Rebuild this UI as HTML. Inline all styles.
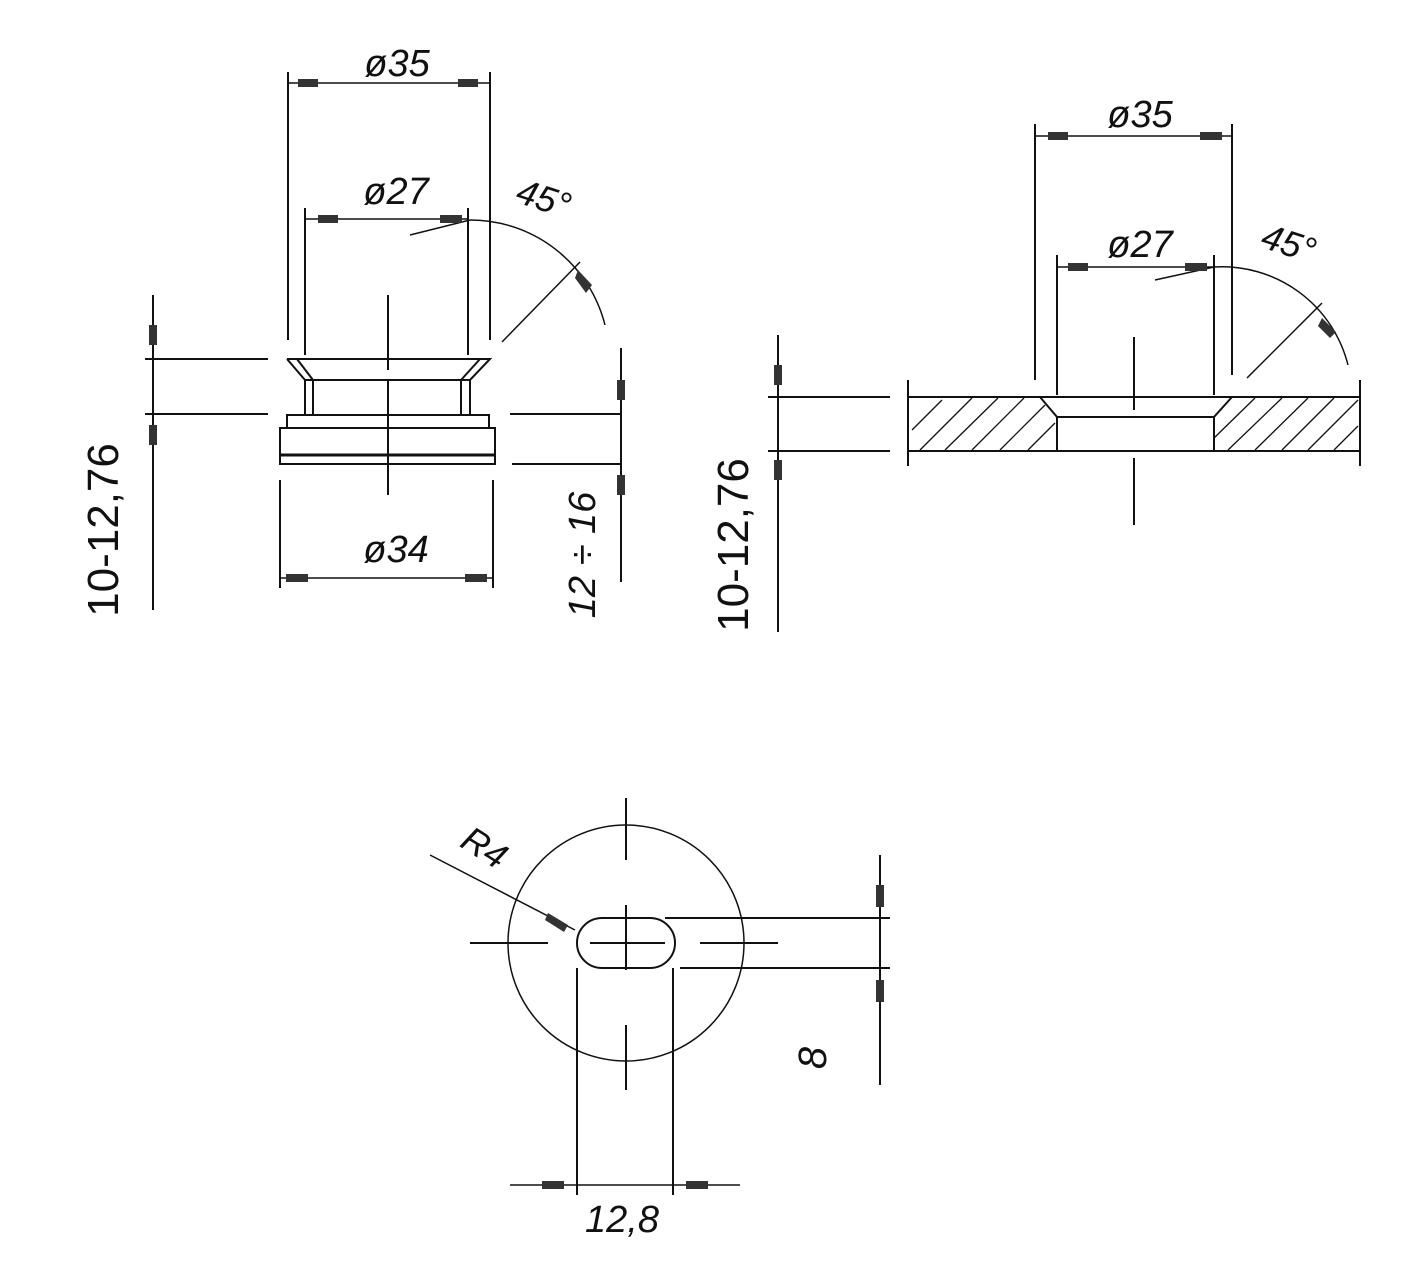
<!DOCTYPE html>
<html><head><meta charset="utf-8"><style>html,body{margin:0;padding:0;background:#fff}svg{display:block}</style></head>
<body>
<svg width="1421" height="1277" viewBox="0 0 1421 1277" xmlns="http://www.w3.org/2000/svg" font-family="Liberation Sans, sans-serif">
<g stroke="#111" stroke-width="2" fill="none">
<!-- LEFT VIEW -->
<line x1="288" y1="72" x2="288" y2="340"/><line x1="490" y1="72" x2="490" y2="340"/>
<line x1="288" y1="83" x2="490" y2="83" stroke-width="1.5"/>
<line x1="305" y1="208" x2="305" y2="355"/><line x1="468" y1="208" x2="468" y2="355"/>
<line x1="305" y1="219" x2="468" y2="219" stroke-width="1.5"/>
<polyline points="287,359 490,359 470,380 305,380 287,359"/>
<line x1="297" y1="359" x2="313" y2="380"/><line x1="480" y1="359" x2="461" y2="380"/>
<line x1="305" y1="380" x2="305" y2="415"/><line x1="313" y1="380" x2="313" y2="415"/>
<line x1="461" y1="380" x2="461" y2="415"/><line x1="470" y1="380" x2="470" y2="415"/>
<rect x="287" y="415" width="202" height="13"/>
<rect x="280" y="428" width="215" height="36"/>
<line x1="280" y1="455" x2="495" y2="455" stroke-width="3"/>
<line x1="388" y1="295" x2="388" y2="370"/><line x1="388" y1="380" x2="388" y2="495"/>
<line x1="145" y1="359" x2="268" y2="359"/><line x1="145" y1="414" x2="268" y2="414"/>
<line x1="153" y1="295" x2="153" y2="610"/>
<line x1="280" y1="480" x2="280" y2="588"/><line x1="493" y1="480" x2="493" y2="588"/>
<line x1="280" y1="578" x2="493" y2="578" stroke-width="1.5"/>
<line x1="510" y1="414" x2="620" y2="414"/><line x1="512" y1="464" x2="620" y2="464"/>
<line x1="621" y1="348" x2="621" y2="582"/>
<path d="M470,220 A139,139 0 0 1 605,325" stroke-width="1.5"/>
<line x1="410" y1="235" x2="470" y2="220" stroke-width="1.5"/>
<line x1="502" y1="342" x2="580" y2="262" stroke-width="1.5"/>
<!-- RIGHT VIEW -->
<line x1="908" y1="397" x2="1360" y2="397"/><line x1="908" y1="451" x2="1360" y2="451"/>
<line x1="908" y1="380" x2="908" y2="466"/><line x1="1360" y1="380" x2="1360" y2="466"/>
<polyline points="1040,397 1057,417 1057,451"/><polyline points="1232,397 1214,417 1214,451"/>
<line x1="1057" y1="417" x2="1214" y2="417"/>
<line x1="1035" y1="124" x2="1035" y2="380"/><line x1="1232" y1="124" x2="1232" y2="375"/>
<line x1="1035" y1="136" x2="1232" y2="136" stroke-width="1.5"/>
<line x1="1057" y1="255" x2="1057" y2="395"/><line x1="1214" y1="255" x2="1214" y2="395"/>
<line x1="1057" y1="267" x2="1214" y2="267" stroke-width="1.5"/>
<line x1="1134" y1="337" x2="1134" y2="410"/><line x1="1134" y1="458" x2="1134" y2="525"/>
<line x1="768" y1="397" x2="890" y2="397"/><line x1="768" y1="451" x2="890" y2="451"/>
<line x1="778" y1="335" x2="778" y2="632"/>
<path d="M1214,267 A130,130 0 0 1 1348,365" stroke-width="1.5"/>
<line x1="1155" y1="280" x2="1214" y2="267" stroke-width="1.5"/>
<line x1="1247" y1="378" x2="1322" y2="303" stroke-width="1.5"/>
<g stroke-width="1.3">
<line x1="912" y1="430" x2="942" y2="400"/><line x1="920" y1="450" x2="972" y2="398"/>
<line x1="945" y1="450" x2="998" y2="398"/><line x1="972" y1="450" x2="1024" y2="398"/>
<line x1="1000" y1="450" x2="1045" y2="405"/><line x1="1028" y1="450" x2="1055" y2="423"/>
<line x1="1214" y1="438" x2="1255" y2="398"/><line x1="1228" y1="450" x2="1282" y2="398"/>
<line x1="1255" y1="450" x2="1308" y2="398"/><line x1="1282" y1="450" x2="1334" y2="398"/>
<line x1="1308" y1="450" x2="1358" y2="400"/><line x1="1334" y1="450" x2="1358" y2="426"/>
</g>
<!-- BOTTOM VIEW -->
<circle cx="626" cy="943" r="118" stroke-width="1.5"/>
<rect x="577" y="918" width="98" height="50" rx="25"/>
<line x1="470" y1="943" x2="548" y2="943"/><line x1="590" y1="943" x2="665" y2="943"/><line x1="700" y1="943" x2="778" y2="943"/>
<line x1="626" y1="798" x2="626" y2="860"/><line x1="626" y1="905" x2="626" y2="970"/><line x1="626" y1="1025" x2="626" y2="1090"/>
<line x1="430" y1="855" x2="575" y2="930" stroke-width="1.5"/>
<line x1="665" y1="918" x2="890" y2="918"/><line x1="680" y1="968" x2="890" y2="968"/>
<line x1="880" y1="855" x2="880" y2="1085"/>
<line x1="577" y1="968" x2="577" y2="1195"/><line x1="673" y1="968" x2="673" y2="1195"/>
<line x1="510" y1="1185" x2="740" y2="1185" stroke-width="1.5"/>
</g>
<!-- arrowheads -->
<g fill="#333">
<rect x="298" y="79" width="20" height="8"/><rect x="458" y="79" width="20" height="8"/>
<rect x="318" y="215" width="20" height="8"/><rect x="440" y="215" width="22" height="8"/>
<rect x="149" y="325" width="8" height="20"/><rect x="149" y="425" width="8" height="20"/>
<rect x="286" y="574" width="22" height="8"/><rect x="465" y="574" width="22" height="8"/>
<rect x="617" y="380" width="8" height="20"/><rect x="617" y="475" width="8" height="20"/>
<polygon points="578,270 592,285 586,293 575,278"/>
<rect x="1048" y="132" width="20" height="8"/><rect x="1200" y="132" width="22" height="8"/>
<rect x="1068" y="263" width="20" height="8"/><rect x="1185" y="263" width="22" height="8"/>
<rect x="774" y="365" width="8" height="20"/><rect x="774" y="460" width="8" height="20"/>
<polygon points="1322,318 1336,332 1330,338 1318,326"/>
<polygon points="548,913 568,925 564,932 545,920"/>
<rect x="876" y="885" width="8" height="22"/><rect x="876" y="980" width="8" height="22"/>
<rect x="542" y="1181" width="22" height="8"/><rect x="686" y="1181" width="22" height="8"/>
</g>
<!-- text -->
<g fill="#111" font-style="italic" font-size="38">
<text x="397" y="76" text-anchor="middle">ø35</text>
<text x="396" y="204" text-anchor="middle">ø27</text>
<text x="396" y="562" text-anchor="middle">ø34</text>
<text x="1140" y="127" text-anchor="middle">ø35</text>
<text x="1140" y="257" text-anchor="middle">ø27</text>
<text x="622" y="1232" text-anchor="middle">12,8</text>
<text transform="translate(595,555) rotate(-90)" text-anchor="middle">12 ÷ 16</text>
<text transform="translate(540,210) rotate(18)" text-anchor="middle" font-size="36">45°</text>
<text transform="translate(1285,255) rotate(18)" text-anchor="middle" font-size="36">45°</text>
<text transform="translate(478,858) rotate(32)" text-anchor="middle" font-size="36">R4</text>
<text transform="translate(826,1058) rotate(-90)" text-anchor="middle" font-size="40">8</text>
</g>
<g fill="#111" font-size="44">
<text transform="translate(118,530) rotate(-90)" text-anchor="middle">10-12,76</text>
<text transform="translate(748,545) rotate(-90)" text-anchor="middle">10-12,76</text>
</g>
</svg>
</body></html>
